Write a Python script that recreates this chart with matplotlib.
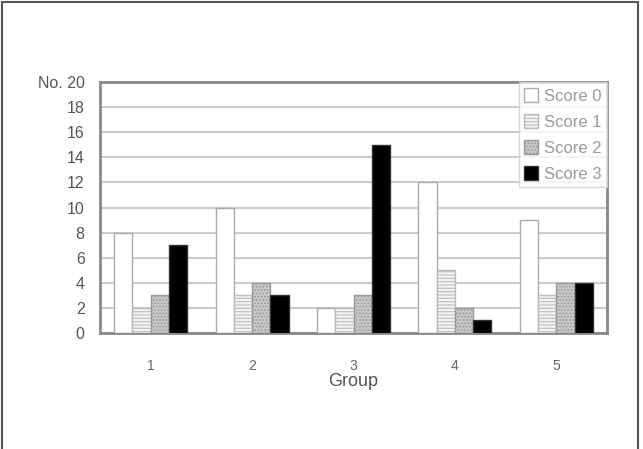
import numpy as np
import matplotlib.pyplot as plt
from matplotlib.patches import Rectangle

groups = ["1", "2", "3", "4", "5"]
series = ["Score 0", "Score 1", "Score 2", "Score 3"]
score0 = [8, 10, 2, 12, 9]
score1 = [2, 3, 2, 5, 3]
score2 = [3, 4, 3, 2, 4]
score3 = [7, 3, 15, 1, 4]
yticks = [0, 2, 4, 6, 8, 10, 12, 14, 16, 18, 20]
ylabels = ["0", "2", "4", "6", "8", "10", "12", "14", "16", "18", "No. 20"]

plt.rcParams['font.family'] = ['Liberation Sans', 'DejaVu Sans']
plt.rcParams['hatch.linewidth'] = 0.8

fig = plt.figure(figsize=(6.43, 4.49), dpi=100)
# thin frame around the whole picture
fig.patches.append(Rectangle((2 / 643, -0.05), 636 / 643, 1 - 2 / 449 + 0.05,
                             transform=fig.transFigure, fill=False,
                             edgecolor='#555555', linewidth=1.5))

ax = fig.add_axes([100 / 643, 1 - 333 / 449, 507 / 643, 251 / 449])

x = np.arange(1, 6)
w = 0.18
styles = [
    dict(color='white', edgecolor='#aaaaaa', hatch=None),
    dict(color='#f4f4f4', edgecolor='#bbbbbb', hatch='-----'),
    dict(color='#c8c8c8', edgecolor='#999999', hatch='.....'),
    dict(color='black', edgecolor='#333333', hatch=None),
]
values = [score0, score1, score2, score3]
for i, (vals, name, st) in enumerate(zip(values, series, styles)):
    ax.bar(x + (i - 1.5) * w, vals, width=w, facecolor=st['color'],
           edgecolor=st['edgecolor'], hatch=st['hatch'], linewidth=1,
           label=name, zorder=3)

ax.set_xlim(0.5, 5.5)
ax.set_ylim(0, 20)
ax.set_yticks(yticks)
ax.set_yticklabels(ylabels, fontsize=11.5, color='#555555')
ax.set_xticks(x)
ax.set_xticklabels(groups, fontsize=10, color='#666666')
ax.tick_params(axis='both', length=0)
ax.tick_params(axis='y', pad=11)
ax.tick_params(axis='x', pad=19)
ax.set_xlabel("Group", fontsize=13, color='#555555', labelpad=0)
ax.yaxis.grid(True, color='#cccccc', linewidth=1.5, zorder=0)
ax.set_axisbelow(True)
for s in ax.spines.values():
    s.set_color('#888888')
    s.set_linewidth(2)

leg = ax.legend(loc='upper right', bbox_to_anchor=(1.0, 1.0), fontsize=12,
                frameon=True, fancybox=False, edgecolor='#cccccc',
                borderpad=0.35, labelspacing=0.62, handlelength=0.8,
                handleheight=0.9, handletextpad=0.35, borderaxespad=0.0)
leg.get_frame().set_linewidth(1)
for t in leg.get_texts():
    t.set_color('#999999')

fig.savefig("out.png", dpi=100)
